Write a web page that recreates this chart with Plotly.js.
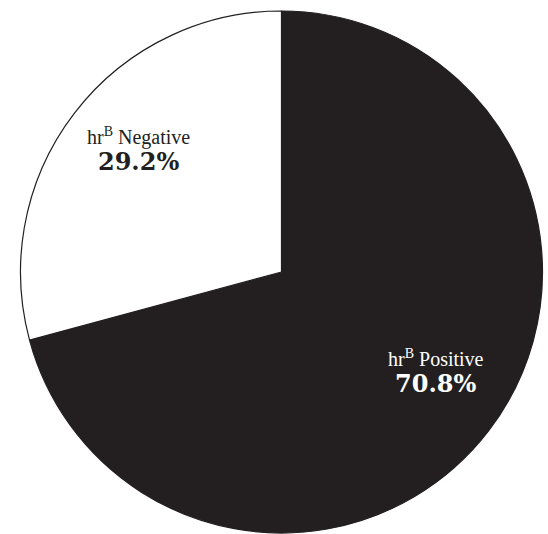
<!DOCTYPE html>
<html>
<head>
<meta charset="utf-8">
<script src="https://cdn.plot.ly/plotly-3.0.1.min.js"></script>
<style>html,body{margin:0;padding:0;background:#fff;}#chart{width:548px;height:534px;}</style>
</head>
<body>
<div id="chart"></div>
<script>
var categories = ["Positive", "Negative"];
var values = [70.8, 29.2];
var sliceColors = ["#231f20", "#ffffff"];
var labelColors = ["#ffffff", "#231f20"];
var labelPos = [[0.795, 0.308], [0.226, 0.734]];

var trace = {
  type: "pie",
  labels: categories,
  values: values,
  sort: false,
  direction: "clockwise",
  rotation: 0,
  marker: {colors: sliceColors, line: {color: "#231f20", width: 1.2}},
  textinfo: "none",
  hoverinfo: "none",
  showlegend: false,
  domain: {x: [0, 1], y: [0, 1]}
};

var annotations = categories.map(function (c, i) {
  return {
    xref: "paper", yref: "paper",
    x: labelPos[i][0], y: labelPos[i][1],
    xanchor: "center", yanchor: "middle",
    showarrow: false,
    align: "center",
    text: '<span style="font-family:\'Liberation Serif\';font-size:20px">hr<sup>B</sup> ' + c + '</span><br>' +
          '<span style="font-family:\'DejaVu Serif\';font-size:24px;font-weight:bold">' + values[i].toFixed(1) + '%</span>',
    font: {color: labelColors[i], family: "DejaVu Serif", size: 20}
  };
});

var layout = {
  width: 548, height: 534,
  margin: {l: 20, r: 5, t: 11, b: 1},
  paper_bgcolor: "#ffffff",
  plot_bgcolor: "#ffffff",
  annotations: annotations
};

Plotly.newPlot("chart", [trace], layout, {displayModeBar: false, staticPlot: true});
</script>
</body>
</html>
